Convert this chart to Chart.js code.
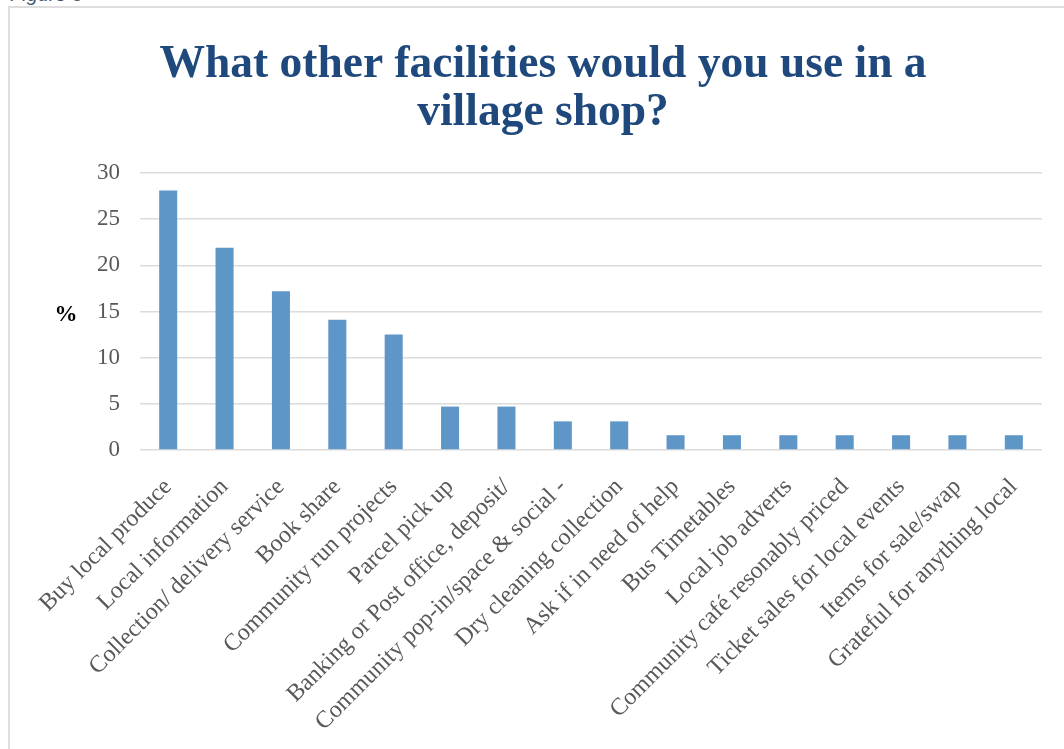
<!DOCTYPE html>
<html>
<head>
<meta charset="utf-8">
<title>Village shop facilities</title>
<script src="https://cdn.jsdelivr.net/npm/chart.js@4/dist/chart.umd.min.js"></script>
<style>
  body { margin: 0; background: #fff; overflow: hidden; width: 1064px; height: 749px; position: relative; }
  .caption { position: absolute; left: 10px; top: -17px; font: italic 20px "Liberation Sans", sans-serif; color: #44546a; }
  .frame { position: absolute; left: 8px; top: 6px; width: 1080px; height: 760px; border: 2px solid #dedede; }
  #facilitiesChart { position: absolute; left: 0; top: 0; }
</style>
</head>
<body>
<div class="caption">Figure 5</div>
<div class="frame">
  <canvas id="facilitiesChart" width="1066" height="741"></canvas>
</div>
<script>
// survey answers, share of respondents (%)
const facilities = [
  "Buy local produce",
  "Local information",
  "Collection/ delivery service",
  "Book share",
  "Community run projects",
  "Parcel pick up",
  "Banking or Post office, deposit/",
  "Community pop-in/space & social -",
  "Dry cleaning collection",
  "Ask if in need of help",
  "Bus Timetables",
  "Local job adverts",
  "Community café resonably priced",
  "Ticket sales for local events",
  "Items for sale/swap",
  "Grateful for anything local",
];
const percentages = [28.1, 21.9, 17.2, 14.1, 12.5, 4.7, 4.7, 3.1, 3.1, 1.6, 1.6, 1.6, 1.6, 1.6, 1.6, 1.6];
const yTicks = [0, 5, 10, 15, 20, 25, 30];

const serif = "'Liberation Serif', 'Times New Roman', serif";
const labelGrey = "#595959";

// "%" next to the value axis, written upright
const percentSign = {
  id: "percentSign",
  afterDraw(chart) {
    const ctx = chart.ctx;
    const y = chart.scales.y;
    ctx.save();
    ctx.font = "bold 23px " + serif;
    ctx.fillStyle = "#000";
    ctx.textAlign = "center";
    ctx.textBaseline = "middle";
    ctx.fillText("%", 56, y.getPixelForValue(15) + 4);
    ctx.restore();
  },
};

Chart.defaults.font.family = serif;
Chart.defaults.color = labelGrey;

const ctx = document.getElementById("facilitiesChart").getContext("2d");
let facilitiesChart = new Chart(ctx, {
  type: "bar",
  data: {
    labels: facilities,
    datasets: [
      {
        label: "%",
        data: percentages,
        backgroundColor: "#5f96c8",
        barPercentage: 0.32,
        categoryPercentage: 1,
      },
    ],
  },
  options: {
    responsive: false,
    animation: false,
    devicePixelRatio: 1,
    // equal side padding keeps the title centred on the whole frame
    layout: { padding: { left: 34, right: 34, top: 0, bottom: 0 } },
    plugins: {
      legend: { display: false },
      tooltip: { enabled: false },
      title: {
        display: true,
        text: ["What other facilities would you use in a", "village shop?"],
        color: "#1f497d",
        font: { family: serif, size: 45.5, weight: "bold", lineHeight: 48 / 45.5 },
        padding: { top: 33, bottom: 36 },
      },
    },
    scales: {
      x: {
        grid: { display: false },
        border: { display: false },
        ticks: {
          font: { size: 24 },
          color: labelGrey,
          maxRotation: 45,
          minRotation: 45,
          autoSkip: false,
          padding: 15,
        },
        afterFit(scale) {
          scale.height = 299;
        },
      },
      y: {
        min: 0,
        max: 30,
        grid: { color: "#dcdcdc", lineWidth: 1.5, drawTicks: false },
        border: { display: false },
        afterBuildTicks(scale) {
          scale.ticks = yTicks.map((v) => ({ value: v }));
        },
        ticks: {
          font: { size: 23 },
          color: labelGrey,
          padding: 20,
        },
        afterFit(scale) {
          scale.width = 96;
        },
      },
    },
  },
  plugins: [percentSign],
});
</script>
</body>
</html>
